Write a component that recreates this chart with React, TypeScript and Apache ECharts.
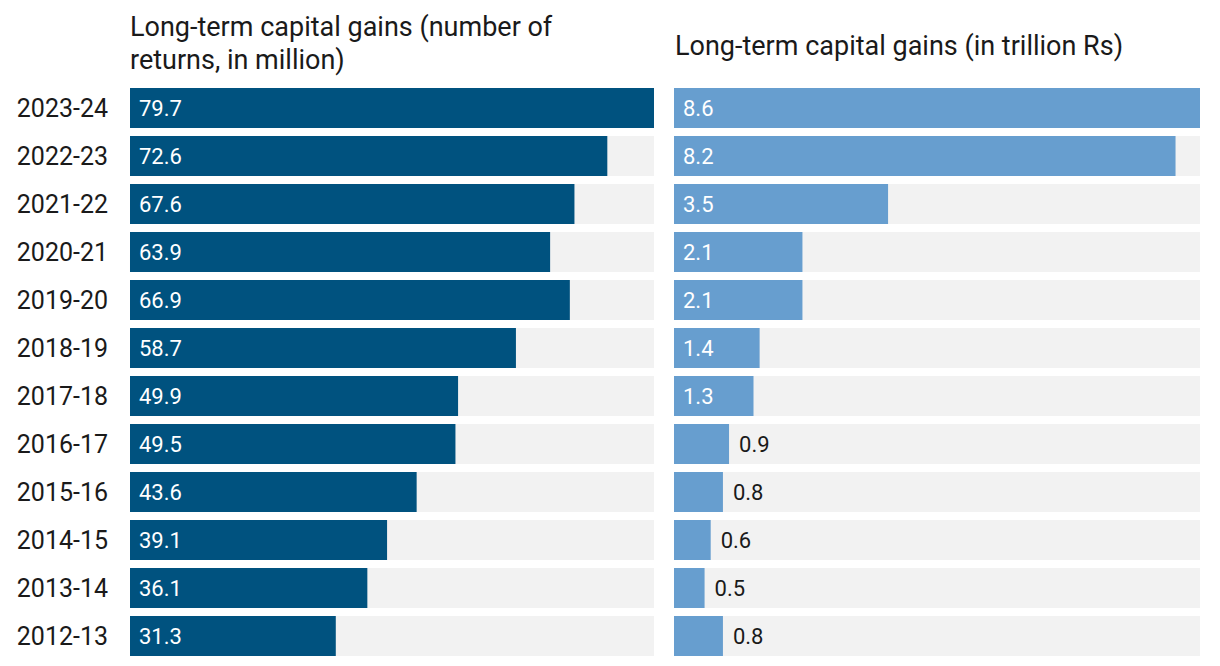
import React, { useEffect, useRef } from "react";
import * as echarts from "echarts";

const categories = [
  "2023-24", "2022-23", "2021-22", "2020-21", "2019-20", "2018-19",
  "2017-18", "2016-17", "2015-16", "2014-15", "2013-14", "2012-13",
];
const returnsMillion = [79.7, 72.6, 67.6, 63.9, 66.9, 58.7, 49.9, 49.5, 43.6, 39.1, 36.1, 31.3];
const gainsTrillion = [8.6, 8.2, 3.5, 2.1, 2.1, 1.4, 1.3, 0.9, 0.8, 0.6, 0.5, 0.8];
const leftTitle = "Long-term capital gains (number of\nreturns, in million)";
const rightTitle = "Long-term capital gains (in trillion Rs)";

const FONT = "Roboto, 'Noto Sans', sans-serif";
const DARK = "#00527f";
const LIGHT = "#679ecf";
const BG = "#f2f2f2";
const TEXT = "#1a1a1a";

export default function App() {
  const ref = useRef<HTMLDivElement>(null);
  useEffect(() => {
    if (!ref.current) return;
    const chart = echarts.init(ref.current, undefined, { renderer: "svg" });
    const threshold = 1.0;
    chart.setOption({
      animation: false,
      textStyle: { fontFamily: FONT },
      graphic: [
        {
          type: "text", left: 130, top: 10,
          style: { text: leftTitle, fontFamily: FONT, fontSize: 27, lineHeight: 33, fill: TEXT },
        },
        {
          type: "text", left: 675, top: 29,
          style: { text: rightTitle, fontFamily: FONT, fontSize: 27, lineHeight: 33, fill: TEXT },
        },
      ],
      grid: [
        { left: 130, width: 524, top: 84, height: 576 },
        { left: 674, width: 526, top: 84, height: 576 },
      ],
      xAxis: [
        { type: "value", gridIndex: 0, min: 0, max: 79.7, show: false },
        { type: "value", gridIndex: 1, min: 0, max: 8.6, show: false },
      ],
      yAxis: [
        {
          type: "category", gridIndex: 0, data: categories, inverse: true,
          axisLine: { show: false }, axisTick: { show: false },
          axisLabel: { margin: 22, fontSize: 25, color: TEXT, fontFamily: FONT },
        },
        {
          type: "category", gridIndex: 1, data: categories, inverse: true,
          axisLine: { show: false }, axisTick: { show: false }, axisLabel: { show: false },
        },
      ],
      series: [
        {
          type: "bar", xAxisIndex: 0, yAxisIndex: 0,
          data: returnsMillion,
          barCategoryGap: "16.67%",
          itemStyle: { color: DARK },
          showBackground: true,
          backgroundStyle: { color: BG },
          label: {
            show: true, position: "insideLeft", distance: 9,
            color: "#ffffff", fontSize: 22, fontFamily: FONT,
            formatter: (p: any) => p.value.toFixed(1),
          },
        },
        {
          type: "bar", xAxisIndex: 1, yAxisIndex: 1,
          data: gainsTrillion.map((v) => ({
            value: v,
            label: v >= threshold
              ? { position: "insideLeft", distance: 9, color: "#ffffff" }
              : { position: "right", distance: 10, color: TEXT },
          })),
          barCategoryGap: "16.67%",
          itemStyle: { color: LIGHT },
          showBackground: true,
          backgroundStyle: { color: BG },
          label: {
            show: true, fontSize: 22, fontFamily: FONT,
            formatter: (p: any) => p.value.toFixed(1),
          },
        },
      ],
    });
    return () => chart.dispose();
  }, []);
  return (
    <div
      ref={ref}
      style={{ position: "absolute", left: 0, top: 0, width: 1220, height: 666, background: "#ffffff" }}
    />
  );
}
